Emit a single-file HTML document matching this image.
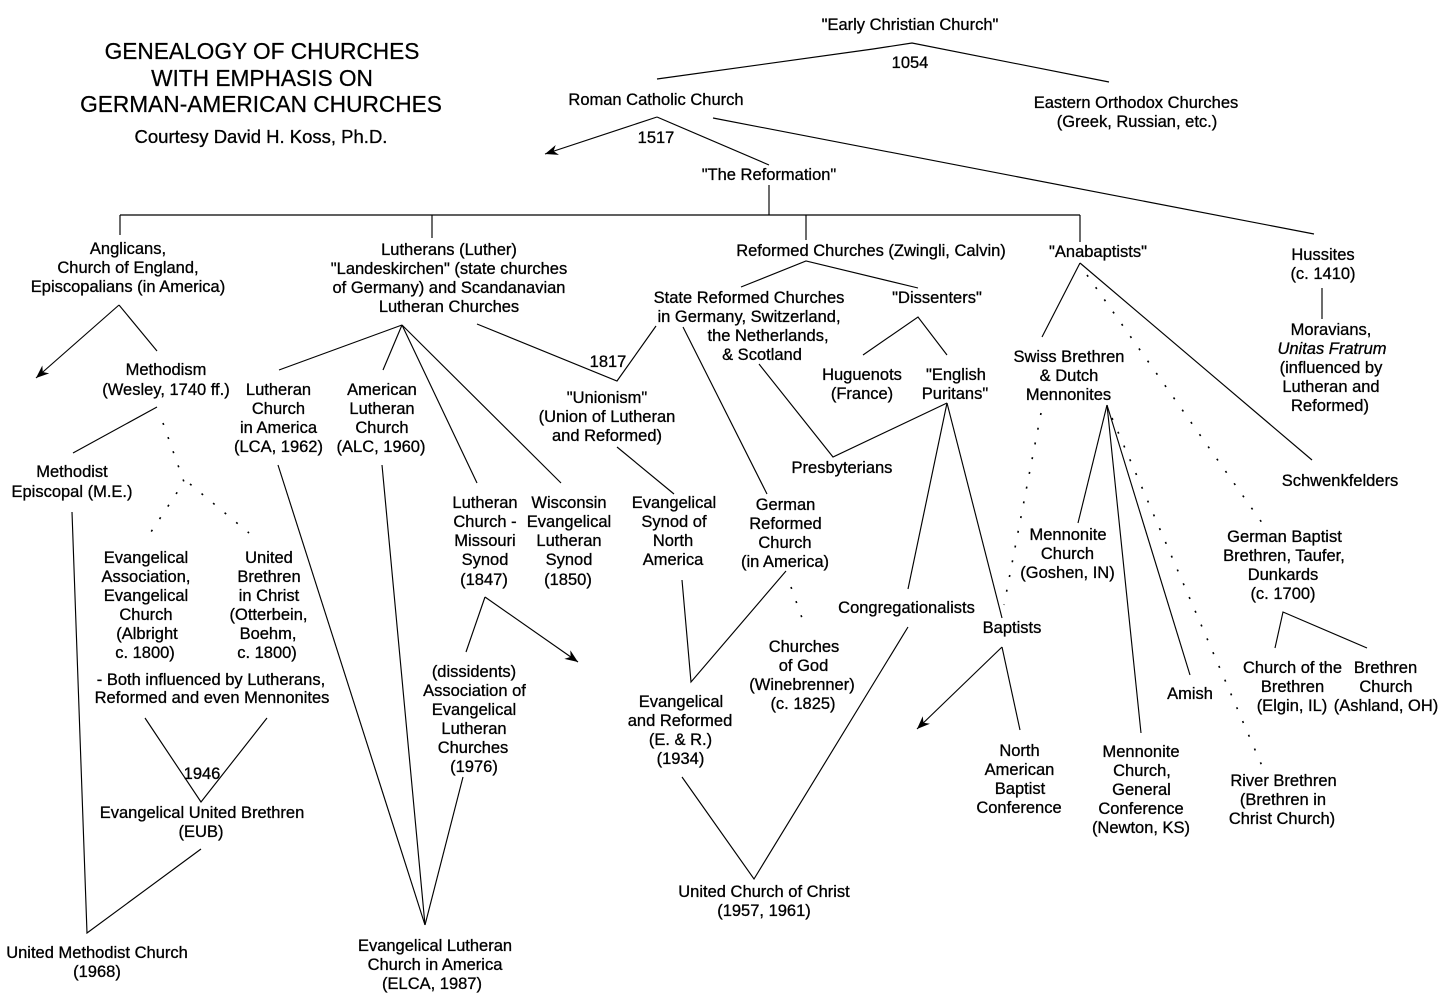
<!DOCTYPE html>
<html><head><meta charset="utf-8"><style>
html,body{margin:0;padding:0;background:#fff;}
svg{display:block;}
text{font-family:"Liberation Sans",Arial,sans-serif;font-size:16.5px;fill:#000;text-anchor:middle;stroke:#000;stroke-width:0.3px;}
.t{font-size:22.7px;stroke-width:0.25px;}
.c{font-size:18.5px;}
line,polyline{stroke:#000;stroke-width:1.15;fill:none;}
.d{stroke-dasharray:2 13;stroke-width:1.6;}
</style></head><body>
<svg width="1444" height="998" viewBox="0 0 1444 998" xmlns="http://www.w3.org/2000/svg">
<defs>
<marker id="a" markerUnits="userSpaceOnUse" markerWidth="16" markerHeight="12" refX="13" refY="6" orient="auto">
<path d="M13,6 L0,0.8 L4,6 L0,11.2 Z" fill="#000"/>
</marker>
</defs>

<!-- Title -->
<text class="t" x="262" y="59">GENEALOGY OF CHURCHES</text>
<text class="t" x="262" y="86">WITH EMPHASIS ON</text>
<text class="t" x="261" y="112">GERMAN-AMERICAN CHURCHES</text>
<text class="c" x="261" y="143">Courtesy David H. Koss, Ph.D.</text>

<!-- Top -->
<text x="910" y="30">"Early Christian Church"</text>
<text x="910" y="68">1054</text>
<text x="656" y="105">Roman Catholic Church</text>
<text x="1136" y="108">Eastern Orthodox Churches</text>
<text x="1137" y="127">(Greek, Russian, etc.)</text>
<text x="656" y="143">1517</text>
<text x="769" y="180">"The Reformation"</text>

<!-- Row 1 -->
<text x="128" y="254">Anglicans,</text>
<text x="128" y="273">Church of England,</text>
<text x="128" y="292">Episcopalians (in America)</text>

<text x="449" y="255">Lutherans (Luther)</text>
<text x="449" y="274">"Landeskirchen" (state churches</text>
<text x="449" y="293">of Germany) and Scandanavian</text>
<text x="449" y="312">Lutheran Churches</text>

<text x="871" y="256">Reformed Churches (Zwingli, Calvin)</text>
<text x="1098" y="257">"Anabaptists"</text>
<text x="1323" y="260">Hussites</text>
<text x="1323" y="279">(c. 1410)</text>

<text x="1331" y="335">Moravians,</text>
<text x="1332" y="354" font-style="italic">Unitas Fratrum</text>
<text x="1331" y="373">(influenced by</text>
<text x="1331" y="392">Lutheran and</text>
<text x="1330" y="411">Reformed)</text>

<text x="749" y="303">State Reformed Churches</text>
<text x="749" y="322">in Germany, Switzerland,</text>
<text x="768" y="341">the Netherlands,</text>
<text x="762" y="360">&amp; Scotland</text>
<text x="937" y="303">"Dissenters"</text>
<text x="862" y="380">Huguenots</text>
<text x="862" y="399">(France)</text>
<text x="956" y="380">"English</text>
<text x="955" y="399">Puritans"</text>
<text x="608" y="367">1817</text>
<text x="607" y="403">"Unionism"</text>
<text x="607" y="422">(Union of Lutheran</text>
<text x="607" y="441">and Reformed)</text>
<text x="842" y="473">Presbyterians</text>

<text x="166" y="375">Methodism</text>
<text x="166" y="395">(Wesley, 1740 ff.)</text>
<text x="72" y="477">Methodist</text>
<text x="72" y="497">Episcopal (M.E.)</text>

<text x="278.5" y="395">Lutheran</text>
<text x="278.5" y="414">Church</text>
<text x="278.5" y="433">in America</text>
<text x="278.5" y="452">(LCA, 1962)</text>
<text x="382" y="395">American</text>
<text x="382" y="414">Lutheran</text>
<text x="382" y="433">Church</text>
<text x="381" y="452">(ALC, 1960)</text>

<text x="1069" y="362">Swiss Brethren</text>
<text x="1069" y="381">&amp; Dutch</text>
<text x="1068.5" y="400">Mennonites</text>
<text x="1340" y="486">Schwenkfelders</text>

<!-- Row mid -->
<text x="485" y="508">Lutheran</text>
<text x="485" y="527">Church -</text>
<text x="485" y="546">Missouri</text>
<text x="485" y="565">Synod</text>
<text x="484" y="585">(1847)</text>

<text x="569" y="508">Wisconsin</text>
<text x="569" y="527">Evangelical</text>
<text x="569" y="546">Lutheran</text>
<text x="569" y="565">Synod</text>
<text x="568" y="585">(1850)</text>

<text x="674" y="508">Evangelical</text>
<text x="674" y="527">Synod of</text>
<text x="673" y="546">North</text>
<text x="673" y="565">America</text>

<text x="785.5" y="510">German</text>
<text x="785.5" y="529">Reformed</text>
<text x="785" y="548">Church</text>
<text x="785" y="567">(in America)</text>

<text x="146" y="563">Evangelical</text>
<text x="146" y="582">Association,</text>
<text x="146" y="601">Evangelical</text>
<text x="146" y="620">Church</text>
<text x="147" y="639">(Albright</text>
<text x="145" y="658">c. 1800)</text>

<text x="269" y="563">United</text>
<text x="269" y="582">Brethren</text>
<text x="269" y="601">in Christ</text>
<text x="268.5" y="620">(Otterbein,</text>
<text x="268" y="639">Boehm,</text>
<text x="267" y="658">c. 1800)</text>

<text x="211" y="685">- Both influenced by Lutherans,</text>
<text x="212" y="703">Reformed and even Mennonites</text>
<text x="202" y="779">1946</text>
<text x="202" y="818">Evangelical United Brethren</text>
<text x="201" y="837">(EUB)</text>
<text x="97" y="958">United Methodist Church</text>
<text x="97" y="977">(1968)</text>

<text x="474" y="677">(dissidents)</text>
<text x="474.5" y="696">Association of</text>
<text x="474" y="715">Evangelical</text>
<text x="474" y="734">Lutheran</text>
<text x="473" y="753">Churches</text>
<text x="474" y="772">(1976)</text>

<text x="435" y="951">Evangelical Lutheran</text>
<text x="435" y="970">Church in America</text>
<text x="432" y="989">(ELCA, 1987)</text>

<text x="804" y="652">Churches</text>
<text x="803.5" y="671">of God</text>
<text x="802" y="690">(Winebrenner)</text>
<text x="803" y="709">(c. 1825)</text>

<text x="681" y="707">Evangelical</text>
<text x="680" y="726">and Reformed</text>
<text x="680.5" y="745">(E. &amp; R.)</text>
<text x="680.5" y="764">(1934)</text>

<text x="764" y="897">United Church of Christ</text>
<text x="764" y="916">(1957, 1961)</text>

<text x="906.5" y="613">Congregationalists</text>
<text x="1012" y="633">Baptists</text>

<text x="1068" y="540">Mennonite</text>
<text x="1067.5" y="559">Church</text>
<text x="1067.5" y="578">(Goshen, IN)</text>

<text x="1284.5" y="542">German Baptist</text>
<text x="1284" y="561">Brethren, Taufer,</text>
<text x="1283" y="580">Dunkards</text>
<text x="1283" y="599">(c. 1700)</text>

<text x="1292.5" y="673">Church of the</text>
<text x="1292.5" y="692">Brethren</text>
<text x="1292" y="711">(Elgin, IL)</text>
<text x="1385.5" y="673">Brethren</text>
<text x="1386" y="692">Church</text>
<text x="1386" y="711">(Ashland, OH)</text>

<text x="1190" y="699">Amish</text>

<text x="1019.5" y="756">North</text>
<text x="1019.5" y="775">American</text>
<text x="1020" y="794">Baptist</text>
<text x="1019" y="813">Conference</text>

<text x="1141" y="757">Mennonite</text>
<text x="1142" y="776">Church,</text>
<text x="1141.5" y="795">General</text>
<text x="1141" y="814">Conference</text>
<text x="1141" y="833">(Newton, KS)</text>

<text x="1283.5" y="786">River Brethren</text>
<text x="1283" y="805">(Brethren in</text>
<text x="1282" y="824">Christ Church)</text>

<!-- Lines -->
<polyline points="657,79 873,49 912,43 1109,82"/>
<line x1="657" y1="117" x2="545" y2="154" marker-end="url(#a)"/>
<line x1="657" y1="117" x2="769" y2="165"/>
<line x1="713" y1="118" x2="1314" y2="234"/>
<line x1="769" y1="185" x2="769" y2="215"/>
<line x1="120" y1="215" x2="1080" y2="215"/>
<line x1="120" y1="215" x2="120" y2="235"/>
<line x1="432" y1="215" x2="432" y2="238"/>
<line x1="806" y1="215" x2="806" y2="240"/>
<line x1="1080" y1="215" x2="1080" y2="242"/>

<!-- Anglicans -->
<line x1="119" y1="305" x2="36" y2="378" marker-end="url(#a)"/>
<line x1="119" y1="305" x2="157" y2="351"/>
<line x1="157" y1="407" x2="73" y2="453"/>
<polyline class="d" points="163,423 184,482 147,538"/>
<line class="d" x1="190" y1="484" x2="249" y2="533"/>
<polyline points="72,512 87,933 201,849"/>
<polyline points="145,718 201,802 267,718"/>

<!-- Lutherans -->
<line x1="402" y1="325" x2="279" y2="370"/>
<line x1="402" y1="325" x2="383" y2="370"/>
<line x1="402" y1="325" x2="477" y2="483"/>
<line x1="402" y1="325" x2="561" y2="483"/>
<polyline points="477,324 617,381 656,326"/>
<line x1="278" y1="465" x2="425" y2="925"/>
<line x1="382" y1="465" x2="425" y2="925"/>
<line x1="463" y1="777" x2="425" y2="925"/>
<line x1="466" y1="652" x2="485" y2="597"/>
<line x1="485" y1="597" x2="578" y2="662" marker-end="url(#a)"/>

<!-- Reformed -->
<polyline points="741,287 806,261 918,288"/>
<polyline points="863,355 918,317 947,355"/>
<line x1="617" y1="447" x2="674" y2="494"/>
<line x1="683" y1="327" x2="767" y2="494"/>
<polyline points="682,580 691,682 786,571"/>
<line class="d" x1="791" y1="587" x2="802" y2="618"/>
<polyline points="682,777 754,879 908,627"/>
<polyline points="759,364 833,457 947,403"/>
<line x1="947" y1="403" x2="908" y2="589"/>
<line x1="947" y1="403" x2="1002" y2="618"/>
<line x1="1002" y1="647" x2="917" y2="729" marker-end="url(#a)"/>
<line x1="1002" y1="647" x2="1020" y2="730"/>

<!-- Anabaptists -->
<line x1="1080" y1="263" x2="1042" y2="337"/>
<line x1="1080" y1="263" x2="1312" y2="460"/>
<line class="d" x1="1087" y1="275" x2="1265" y2="527"/>
<line x1="1322" y1="288" x2="1322" y2="319"/>
<line x1="1107" y1="405" x2="1078" y2="523"/>
<line x1="1107" y1="405" x2="1141" y2="733"/>
<line x1="1107" y1="405" x2="1190" y2="675"/>
<line class="d" x1="1041" y1="413" x2="1004" y2="605"/>
<line class="d" x1="1112" y1="418" x2="1262" y2="766"/>
<polyline points="1275,648 1283,612 1367,648"/>
</svg>
</body></html>
